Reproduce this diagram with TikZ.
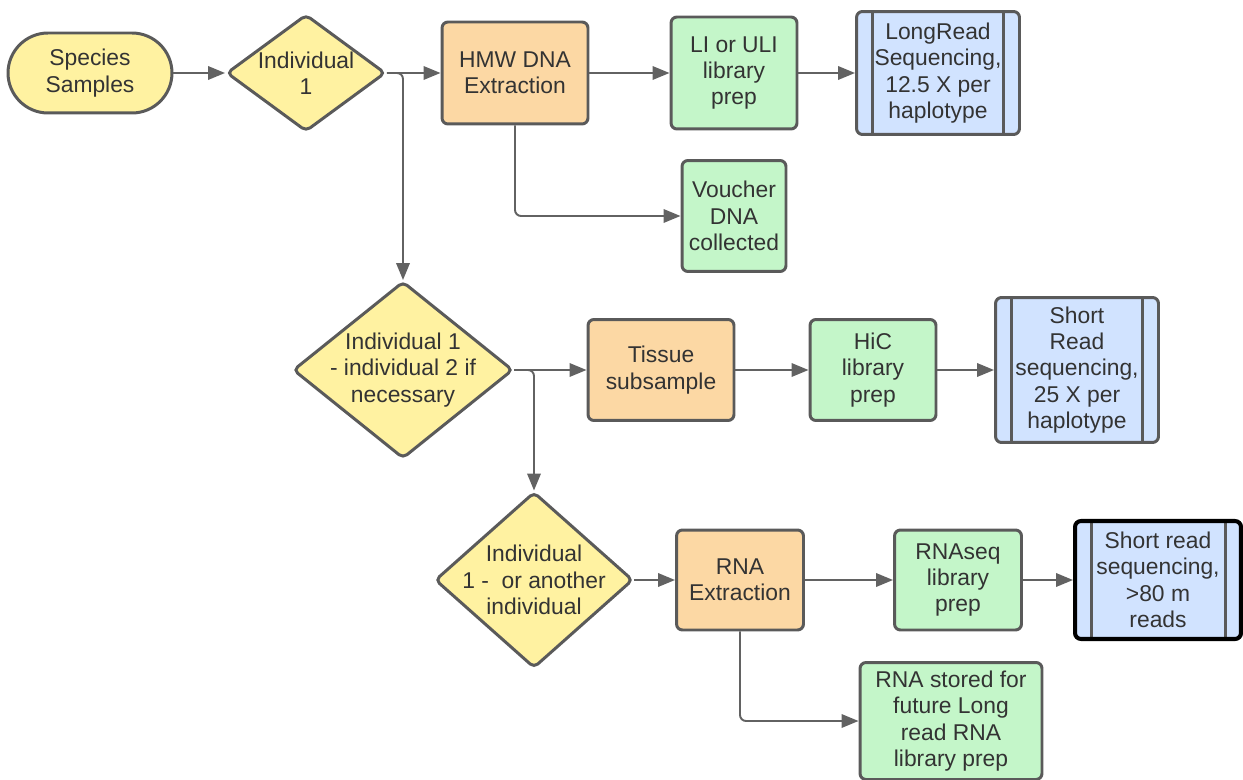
\documentclass[tikz,border=0pt]{standalone}
\usepackage{fontspec}
\setmainfont{Liberation Sans}
\usepackage{tikz}
\usepackage{xcolor}
\usetikzlibrary{shapes.geometric}
\usetikzlibrary{arrows.meta}
\usetikzlibrary{positioning}

\definecolor{lineGray}{HTML}{5A5A5A}
\definecolor{arrowGray}{HTML}{626262}
\definecolor{textGray}{HTML}{333333}
\definecolor{startYellow}{HTML}{FFF2A1}
\definecolor{extractOrange}{HTML}{FCD8A4}
\definecolor{prepGreen}{HTML}{C4F6C9}
\definecolor{seqBlue}{HTML}{D1E3FF}

\begin{document}
\begin{tikzpicture}[x=0.02cm, y=-0.02cm,
		every node/.style={font=\fontsize{13}{15}\selectfont, text=textGray, align=center, draw=lineGray, line width=1.7pt},
		term/.style={rectangle, rounded corners=0.8cm, fill=startYellow, minimum width=3.28cm, minimum height=1.6cm},
		decide/.style={diamond, fill=startYellow, inner sep=-0.3cm, rounded corners=0.1cm},
		extract/.style={rectangle, rounded corners=0.12cm, fill=extractOrange, inner sep=0pt},
		libprep/.style={rectangle, rounded corners=0.12cm, fill=prepGreen, inner sep=0pt},
		seqbox/.style={rectangle, rounded corners=0.12cm, fill=seqBlue, inner sep=0pt,
			path picture={\draw[lineGray, line width=1.7pt]
				([xshift=0.32cm]path picture bounding box.north west) -- ([xshift=0.32cm]path picture bounding box.south west)
				([xshift=-0.32cm]path picture bounding box.north east) -- ([xshift=-0.32cm]path picture bounding box.south east);}},
		flow/.style={draw=arrowGray, line width=1.1pt, rounded corners=0.12cm, -{Triangle[length=0.34cm, width=0.27cm]}}]
		\useasboundingbox (0,0) rectangle (1243,780);

		% first individual
		\node[term] (species) at (90,73) {Species\\Samples};
		\node[decide, minimum width=3.18cm, minimum height=2.34cm] (ind1) at (306,73) {Individual\\1};
		\node[extract, minimum width=2.92cm, minimum height=2.04cm] (hmw) at (515,73) {HMW DNA\\Extraction};
		\node[libprep, minimum width=2.52cm, minimum height=2.24cm] (uli) at (734,73) {LI or ULI\\library\\prep};
		\node[seqbox, minimum width=3.26cm, minimum height=2.46cm] (longread) at (938,73) {LongRead\\Sequencing,\\12.5 X per\\haplotype};
		\node[libprep, minimum width=2.08cm, minimum height=2.22cm] (voucher) at (734,216) {Voucher\\DNA\\collected};

		% HiC
		\node[decide, minimum width=4.4cm, minimum height=3.54cm] (ind2) at (403,370) {Individual 1\\- individual 2 if\\necessary};
		\node[extract, minimum width=2.92cm, minimum height=2.02cm] (tissue) at (661,370) {Tissue\\subsample};
		\node[libprep, minimum width=2.52cm, minimum height=2.02cm] (hic) at (873,370) {HiC\\library\\prep};
		\node[seqbox, minimum width=3.26cm, minimum height=2.9cm] (shortread) at (1077,370) {Short\\Read\\sequencing,\\25 X per\\haplotype};

		% RNA
		\node[decide, minimum width=3.96cm, minimum height=3.52cm] (ind3) at (534,580) {Individual\\1 -~ or another\\individual};
		\node[extract, minimum width=2.54cm, minimum height=2cm] (rna) at (740,580) {RNA\\Extraction};
		\node[libprep, minimum width=2.54cm, minimum height=2cm] (rnaseq) at (958,580) {RNAseq\\library\\prep};
		\node[seqbox, draw=black, line width=2.3pt, minimum width=3.32cm, minimum height=2.36cm] (rnaread) at (1158,580) {Short read\\sequencing,\\>80 m\\reads};
		\node[libprep, minimum width=3.64cm, minimum height=2.34cm] (stored) at (951,721) {RNA stored for\\future Long\\read RNA\\library prep};

		\draw[flow] (species.east) -- (ind1.west);
		\draw[flow] (ind1.east) -- (hmw.west);
		\draw[flow] (hmw.east) -- (uli.west);
		\draw[flow] (uli.east) -- (longread.west);
		\draw[flow] (hmw.south) |- (voucher.west);
		\draw[flow] (ind1.east) -| (ind2.north);
		\draw[flow] (ind2.east) -- (tissue.west);
		\draw[flow] (tissue.east) -- (hic.west);
		\draw[flow] (hic.east) -- (shortread.west);
		\draw[flow] (ind2.east) -| (ind3.north);
		\draw[flow] (ind3.east) -- (rna.west);
		\draw[flow] (rna.east) -- (rnaseq.west);
		\draw[flow] (rnaseq.east) -- (rnaread.west);
		\draw[flow] (rna.south) |- (stored.west);
	\end{tikzpicture}
\end{document}
